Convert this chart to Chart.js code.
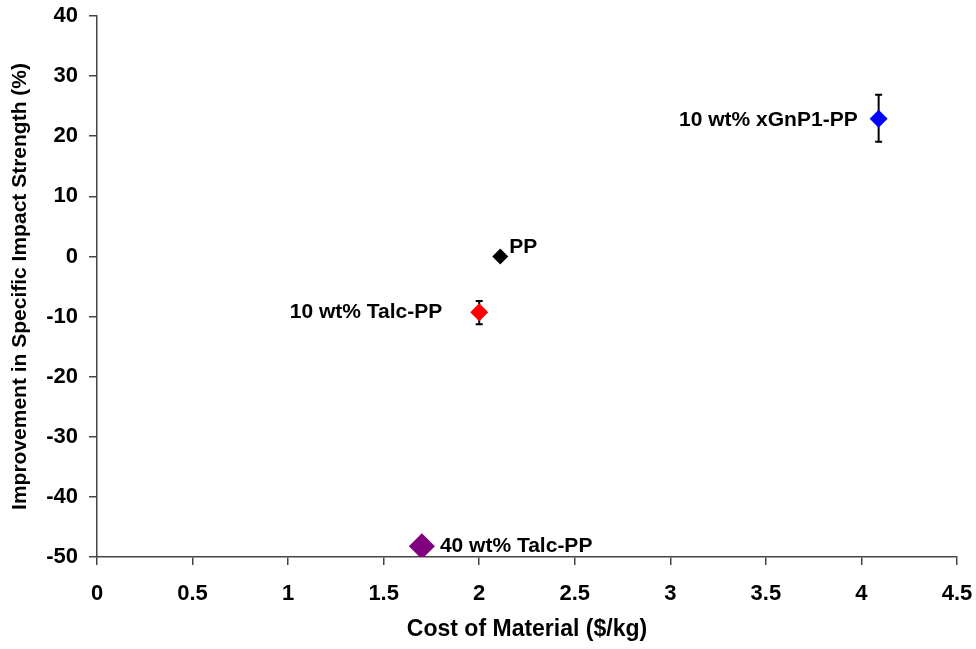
<!DOCTYPE html>
<html>
<head>
<meta charset="utf-8">
<script src="https://cdn.jsdelivr.net/npm/chart.js@4.4.0/dist/chart.umd.min.js"></script>
<style>
  html, body { margin: 0; padding: 0; background: #fff; }
  #wrap { width: 976px; height: 649px; }
</style>
</head>
<body>
<div id="wrap"><canvas id="impact"></canvas></div>
<script>
const materials = [ 'PP', '10 wt% Talc-PP', '40 wt% Talc-PP', '10 wt% xGnP1-PP' ]
const cost = [ 2.11, 2.0, 1.7, 4.09 ]
const improvement = [ 0, -9.3, -48.2, 22.9 ]
const errLow = [ null, -11.3, null, 19.1 ]
const errHigh = [ null, -7.4, null, 26.9 ]
const xTicks = [ 0, 0.5, 1, 1.5, 2, 2.5, 3, 3.5, 4, 4.5 ]
const yTicks = [ -50, -40, -30, -20, -10, 0, 10, 20, 30, 40 ]

// styling per point
const colours = [ '#000000', '#ff0000', '#800080', '#0000ff' ]
const radii = [ 8, 9, 13, 9 ]
const labelPlace = [
  { dx: 9, dy: -9, align: 'left' },
  { dx: -37, dy: 0, align: 'right' },
  { dx: 18, dy: 0, align: 'left' },
  { dx: -21, dy: 1, align: 'right' }
]

const FONT = '"Liberation Sans", Arial, sans-serif'
const axisColour = '#444'

const errorBars = {
  id: 'errorBars',
  beforeDatasetsDraw( chart ) {
    const { ctx, scales: { x, y } } = chart
    ctx.save()
    ctx.strokeStyle = '#000'
    ctx.lineWidth = 2
    cost.forEach( ( c, i ) => {
      if ( errLow[ i ] === null ) return
      const px = x.getPixelForValue( c )
      const lo = y.getPixelForValue( errLow[ i ] )
      const hi = y.getPixelForValue( errHigh[ i ] )
      ctx.beginPath()
      ctx.moveTo( px, lo ); ctx.lineTo( px, hi )
      ctx.moveTo( px - 3.5, lo ); ctx.lineTo( px + 3.5, lo )
      ctx.moveTo( px - 3.5, hi ); ctx.lineTo( px + 3.5, hi )
      ctx.stroke()
    } )
    ctx.restore()
  }
}

const pointLabels = {
  id: 'pointLabels',
  afterDatasetsDraw( chart ) {
    const { ctx, scales: { x, y } } = chart
    ctx.save()
    ctx.font = 'bold 21px ' + FONT
    ctx.fillStyle = '#000'
    ctx.textBaseline = 'middle'
    materials.forEach( ( name, i ) => {
      const p = labelPlace[ i ]
      ctx.textAlign = p.align
      ctx.fillText( name, x.getPixelForValue( cost[ i ] ) + p.dx, y.getPixelForValue( improvement[ i ] ) + p.dy )
    } )
    ctx.restore()
  }
}

const data = {
  datasets: [ {
    label: 'materials',
    data: cost.map( ( c, i ) => ( { x: c, y: improvement[ i ] } ) ),
    pointStyle: 'rectRot',
    pointRadius: radii,
    pointHoverRadius: radii,
    pointBackgroundColor: colours,
    pointBorderColor: colours,
    pointBorderWidth: 0,
    showLine: false
  } ]
}

const config = {
  type: 'scatter',
  data: data,
  options: {
    responsive: true,
    maintainAspectRatio: false,
    animation: false,
    layout: { padding: { top: 16, right: 19, left: 0, bottom: 0 } },
    plugins: { legend: { display: false }, tooltip: { enabled: false } },
    scales: {
      x: {
        type: 'linear',
        min: 0,
        max: 4.5,
        afterBuildTicks: s => { s.ticks = xTicks.map( v => ( { value: v } ) ) },
        afterFit: s => { s.height = 92; s.paddingLeft = 0; s.paddingRight = 0 },
        ticks: {
          color: '#000',
          font: { family: FONT, size: 22, weight: 'bold' },
          padding: 16,
          maxRotation: 0,
          callback: v => String( v )
        },
        grid: { drawOnChartArea: false, drawTicks: true, tickLength: 8, color: axisColour, lineWidth: 1.5 },
        border: { display: true, color: axisColour, width: 1.5 },
        title: {
          display: true,
          text: 'Cost of Material ($/kg)',
          color: '#000',
          font: { family: FONT, size: 23, weight: 'bold' },
          padding: { top: 0, bottom: 6 }
        }
      },
      y: {
        type: 'linear',
        min: -50,
        max: 40,
        afterBuildTicks: s => { s.ticks = yTicks.map( v => ( { value: v } ) ) },
        afterFit: s => { s.width = 97; s.paddingTop = 0; s.paddingBottom = 0 },
        ticks: {
          color: '#000',
          font: { family: FONT, size: 22, weight: 'bold' },
          padding: 11,
          callback: v => String( v )
        },
        grid: { drawOnChartArea: false, drawTicks: true, tickLength: 8, color: axisColour, lineWidth: 1.5 },
        border: { display: true, color: axisColour, width: 1.5 },
        title: {
          display: true,
          text: 'Improvement in Specific Impact Strength (%)',
          color: '#000',
          font: { family: FONT, size: 21, weight: 'bold' },
          padding: { top: 8, bottom: 0 }
        }
      }
    }
  },
  plugins: [ errorBars, pointLabels ]
}

const graph = new Chart( document.getElementById( 'impact' ), config )
</script>
</body>
</html>
